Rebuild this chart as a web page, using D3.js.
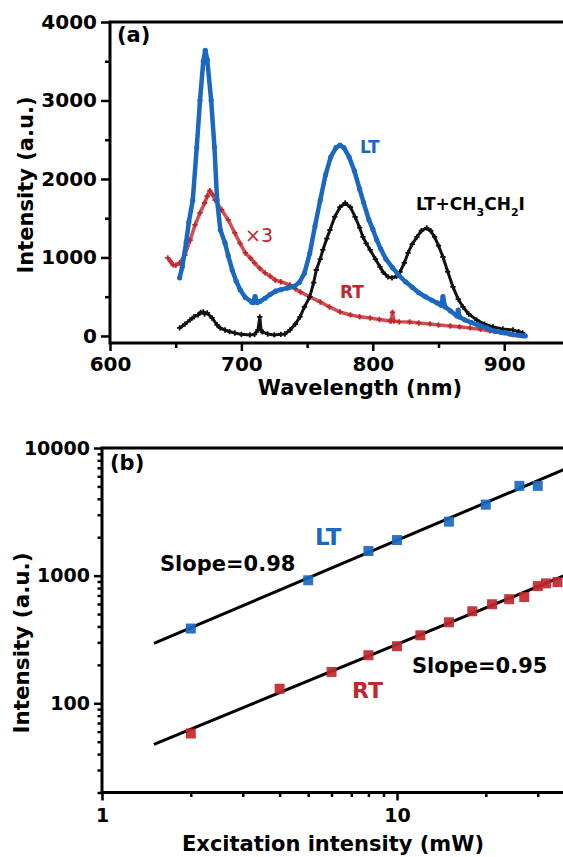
<!DOCTYPE html>
<html>
<head>
<meta charset="utf-8">
<script src="https://cdn.jsdelivr.net/npm/d3@7"></script>
<style>
  body { margin: 0; background: #fff; }
  svg text { font-family: "DejaVu Sans", sans-serif; font-weight: bold; }
</style>
</head>
<body>
<svg id="chart" width="563" height="857"></svg>
<script>
// panel (a): PL spectra
const ltWave = [653, 655, 658, 660, 663, 666, 668.5, 671, 672.5, 674, 677, 679.5, 681.5, 684, 687.5, 690, 693, 696, 699, 703, 708, 709, 710.4, 712, 714, 718, 722, 726, 730, 735, 740, 744, 748, 752, 756, 760, 764, 768, 772, 775, 778, 782, 786, 790, 793, 797, 800, 803, 806, 810, 815, 820, 825, 830, 835, 840, 845, 849, 852, 853.4, 855, 859, 864, 865, 866, 870, 875, 880, 887, 893, 900, 907, 912, 916];
const ltInt = [740, 880, 1200, 1450, 1730, 2400, 3000, 3500, 3640, 3520, 3000, 2400, 1730, 1350, 1185, 1020, 840, 700, 590, 490, 430, 425, 500, 425, 440, 480, 530, 570, 590, 610, 630, 680, 800, 1050, 1400, 1730, 2050, 2280, 2400, 2430, 2400, 2280, 2100, 1870, 1700, 1480, 1360, 1223, 1110, 980, 870, 770, 690, 620, 550, 500, 455, 420, 390, 500, 370, 320, 255, 330, 242, 205, 170, 140, 100, 60, 40, 15, 8, 0];

const rtWave = [644, 646, 648, 650, 653, 657, 661, 664.7, 668.5, 672, 674, 676, 678, 680, 685, 690, 695, 699, 703, 707, 710, 714, 718, 722, 725.6, 730, 737, 741, 745, 752, 760, 767, 775, 783, 790, 798, 805, 813, 814, 815, 816, 820, 828, 835, 843.5, 850, 859, 866, 874, 882, 889, 897, 904, 910, 914];
const rtInt = [994, 950, 905, 900, 930, 1030, 1220, 1414, 1567, 1694, 1780, 1850, 1800, 1732, 1605, 1478, 1312, 1180, 1057, 990, 930, 860, 803, 760, 713, 690, 650, 600, 560, 497, 433, 369, 306, 268, 245, 229, 210, 192, 190, 300, 190, 180, 178, 165, 153, 140, 127, 115, 102, 85, 64, 45, 25, 10, 0];

const chWave = [653, 657, 661, 664, 667, 669, 671, 672, 674, 677.6, 681.5, 684, 687.5, 691, 695, 700, 706.5, 710, 712.6, 714, 715, 716, 720, 725, 730, 733, 737, 741, 744.6, 748, 752, 755, 757, 760, 762, 765, 767.4, 771, 775, 779, 783, 786.5, 790, 792.5, 795, 798, 802, 805.5, 808, 811.6, 814.6, 818, 820.7, 824, 826.8, 830, 833.6, 837, 841, 844, 847, 850, 853.4, 857, 861, 865, 868.6, 873, 879, 885, 891.5, 899, 906.7, 911, 914];
const chInt = [102, 150, 204, 245, 268, 300, 306, 280, 293, 229, 140, 100, 76, 55, 38, 20, 13, 20, 76, 242, 70, 51, 25, 13, 20, 25, 76, 150, 242, 370, 497, 680, 840, 980, 1096, 1240, 1350, 1516, 1640, 1694, 1640, 1516, 1380, 1261, 1180, 1096, 980, 879, 810, 752, 739, 760, 815, 930, 1057, 1170, 1261, 1340, 1376, 1340, 1261, 1150, 1006, 820, 624, 470, 369, 280, 204, 150, 115, 90, 76, 55, 38];

const aYTicks = [0, 1000, 2000, 3000, 4000];
const aYMinor = [500, 1500, 2500, 3500];
const aXTicks = [600, 700, 800, 900];
const aXMinor = [650, 750, 850];

// panel (b): power dependence
const ltPower = [2, 5, 8, 10, 15, 20, 26, 30];
const ltPL = [385, 920, 1560, 1900, 2650, 3600, 5050, 5050];
const rtPower = [2, 4, 6, 8, 10, 12, 15, 18, 21, 24, 27, 30, 32, 35];
const rtPL = [58, 130, 176, 238, 280, 341, 431, 526, 597, 654, 680, 828, 870, 890];
const ltFit = [[1.5, 295], [40, 7350]];
const rtFit = [[1.5, 47.7], [40, 1080]];

const bYTicks = [100, 1000, 10000];
const bXTicks = [1, 10];

const blue = "#1a68c0", red = "#c1272d";
const svg = d3.select("#chart");

function styleTicks(g, size) {
  g.select(".domain").remove();
  g.selectAll(".tick line").attr("stroke", "#000").attr("stroke-width", 2.5);
  g.selectAll(".tick text").attr("fill", "#000").style("font-size", size + "px")
    .style("font-family", "DejaVu Sans").style("font-weight", "bold");
}

// ---------- panel (a)
const xA = d3.scaleLinear().domain([600, 950]).range([110, 569.9]);
const yA = d3.scaleLinear().domain([-90, 4000]).range([343, 22]);

svg.append("g").attr("transform", "translate(110,0)")
  .call(d3.axisLeft(yA).tickValues(aYTicks).tickSize(9).tickPadding(4).tickFormat(d3.format("d")))
  .call(g => styleTicks(g, 20));
svg.append("g").attr("transform", "translate(110,0)")
  .call(d3.axisLeft(yA).tickValues(aYMinor).tickSize(5).tickFormat(""))
  .call(g => styleTicks(g, 20));
svg.append("g").attr("transform", "translate(0,343)")
  .call(d3.axisBottom(xA).tickValues(aXTicks).tickSize(8).tickPadding(6))
  .call(g => styleTicks(g, 20));
svg.append("g").attr("transform", "translate(0,343)")
  .call(d3.axisBottom(xA).tickValues(aXMinor).tickSize(5).tickFormat(""))
  .call(g => styleTicks(g, 20));

svg.append("path")
  .attr("d", `M${xA.range()[1]},${yA.range()[1]}H110V343H${xA.range()[1]}`)
  .attr("fill", "none").attr("stroke", "#000").attr("stroke-width", 3);

const lineA = (w, v) => d3.line().x((d, i) => xA(w[i])).y(d => yA(d))(v);

// red x3 (RT)
svg.append("path").attr("d", lineA(rtWave, rtInt))
  .attr("fill", "none").attr("stroke", red).attr("stroke-width", 3.6).attr("stroke-opacity", 0.8)
  .attr("stroke-linejoin", "round");
svg.append("g").selectAll("path").data(rtInt).join("path")
  .attr("transform", (d, i) => `translate(${xA(rtWave[i])},${yA(d)})`)
  .attr("d", d3.symbol(d3.symbolCross, 16)).attr("fill", red);

// black (LT + CH3CH2I)
svg.append("path").attr("d", lineA(chWave, chInt))
  .attr("fill", "none").attr("stroke", "#111").attr("stroke-width", 3)
  .attr("stroke-linejoin", "round");
svg.append("g").selectAll("path").data(chInt).join("path")
  .attr("transform", (d, i) => `translate(${xA(chWave[i])},${yA(d)})`)
  .attr("d", d3.symbol(d3.symbolCross, 16)).attr("fill", "#111");

// blue (LT)
svg.append("path").attr("d", lineA(ltWave, ltInt))
  .attr("fill", "none").attr("stroke", blue).attr("stroke-width", 4.5)
  .attr("stroke-linejoin", "round").attr("stroke-linecap", "round");
svg.append("g").selectAll("circle").data(ltInt).join("circle")
  .attr("cx", (d, i) => xA(ltWave[i])).attr("cy", d => yA(d)).attr("r", 2.6).attr("fill", blue);

svg.append("text").attr("x", 117).attr("y", 42).style("font-size", "21px").text("(a)");
svg.append("text").attr("x", 360).attr("y", 153).style("font-size", "17px").attr("fill", blue).text("LT");
svg.append("text").attr("x", 245).attr("y", 242).style("font-size", "19px").style("font-weight", "normal")
  .attr("fill", red).text("×3");
svg.append("text").attr("x", 340).attr("y", 298).style("font-size", "17px").attr("fill", red).text("RT");
const ch = svg.append("text").attr("x", 416).attr("y", 210).style("font-size", "17px");
ch.append("tspan").text("LT+CH");
ch.append("tspan").attr("dy", 6).style("font-size", "11px").text("3");
ch.append("tspan").attr("dy", -6).text("CH");
ch.append("tspan").attr("dy", 6).style("font-size", "11px").text("2");
ch.append("tspan").attr("dy", -6).text("I");

svg.append("text").attr("transform", "translate(33,185) rotate(-90)").attr("text-anchor", "middle")
  .style("font-size", "21px").text("Intensity (a.u.)");
svg.append("text").attr("x", 360).attr("y", 395).attr("text-anchor", "middle")
  .style("font-size", "21px").text("Wavelength (nm)");

// ---------- panel (b)
const xB = d3.scaleLog().domain([1, 40]).range([102, 574.6]);
const yB = d3.scaleLog().domain([20, 10000]).range([792.5, 448]);

const yMinorB = [], xMinorB = [];
[10, 100, 1000].forEach(p => d3.range(2, 10).forEach(k => { if (k * p >= 20) yMinorB.push(k * p); }));
[1, 10].forEach(p => d3.range(2, 10).forEach(k => { if (k * p < 40) xMinorB.push(k * p); }));

svg.append("g").attr("transform", "translate(102,0)")
  .call(d3.axisLeft(yB).tickValues(bYTicks).tickSize(8).tickPadding(4).tickFormat(d3.format("d")))
  .call(g => styleTicks(g, 19));
svg.append("g").attr("transform", "translate(102,0)")
  .call(d3.axisLeft(yB).tickValues(yMinorB).tickSize(4.5).tickFormat(""))
  .call(g => styleTicks(g, 19));
svg.append("g").attr("transform", "translate(0,792.5)")
  .call(d3.axisBottom(xB).tickValues(bXTicks).tickSize(8).tickPadding(8).tickFormat(d3.format("d")))
  .call(g => styleTicks(g, 19));
svg.append("g").attr("transform", "translate(0,792.5)")
  .call(d3.axisBottom(xB).tickValues(xMinorB).tickSize(4.5).tickFormat(""))
  .call(g => styleTicks(g, 19));

svg.append("path")
  .attr("d", `M${xB.range()[1]},448H102V792.5H${xB.range()[1]}`)
  .attr("fill", "none").attr("stroke", "#000").attr("stroke-width", 3);

const lineB = d3.line().x(d => xB(d[0])).y(d => yB(d[1]));
svg.append("path").attr("d", lineB(ltFit)).attr("stroke", "#000").attr("stroke-width", 3).attr("fill", "none");
svg.append("path").attr("d", lineB(rtFit)).attr("stroke", "#000").attr("stroke-width", 3).attr("fill", "none");

const sq = 10;
svg.append("g").selectAll("rect").data(ltPL).join("rect")
  .attr("x", (d, i) => xB(ltPower[i]) - sq / 2).attr("y", d => yB(d) - sq / 2)
  .attr("width", sq).attr("height", sq).attr("fill", blue).attr("fill-opacity", 0.92);
svg.append("g").selectAll("rect").data(rtPL).join("rect")
  .attr("x", (d, i) => xB(rtPower[i]) - sq / 2).attr("y", d => yB(d) - sq / 2)
  .attr("width", sq).attr("height", sq).attr("fill", red).attr("fill-opacity", 0.92);

svg.append("text").attr("x", 110).attr("y", 470).style("font-size", "21px").text("(b)");
svg.append("text").attr("x", 160).attr("y", 571).style("font-size", "21px").text("Slope=0.98");
svg.append("text").attr("x", 412).attr("y", 673).style("font-size", "21px").text("Slope=0.95");
svg.append("text").attr("x", 315).attr("y", 545).style("font-size", "23px").attr("fill", blue).text("LT");
svg.append("text").attr("x", 352).attr("y", 698).style("font-size", "22px").attr("fill", red).text("RT");

svg.append("text").attr("transform", "translate(28.5,643) rotate(-90)").attr("text-anchor", "middle")
  .style("font-size", "21.5px").text("Intensity (a.u.)");
svg.append("text").attr("x", 333).attr("y", 851).attr("text-anchor", "middle")
  .style("font-size", "21px").text("Excitation intensity (mW)");
</script>
</body>
</html>
